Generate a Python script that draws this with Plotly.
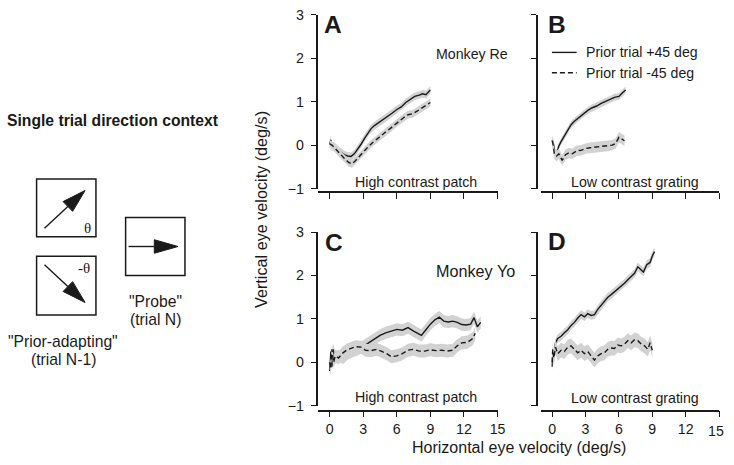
import math
import plotly.graph_objects as go

W, H = 734, 465
FONT = "Liberation Sans, Arial, sans-serif"
BAND = "#d2d2d2"
INK = "#1a1a1a"

# --- data (deg/s) ---
# Panel A, monkey Re, high contrast patch
a_plus_x = [0, 0.1, 0.2, 0.4, 0.7, 1.0, 1.3, 1.6, 1.9, 2.2, 2.5, 2.8, 3.1, 3.4, 3.7, 4.0,
            4.4, 4.8, 5.2, 5.6, 6.0, 6.4, 6.8, 7.2, 7.6, 8.0, 8.3, 8.6, 8.8, 9.0]
a_plus_y = [0.02, 0.12, -0.05, -0.02, -0.1, -0.17, -0.22, -0.25, -0.26, -0.2, -0.1, 0.02,
            0.15, 0.28, 0.38, 0.45, 0.52, 0.58, 0.65, 0.74, 0.82, 0.88, 0.98, 1.06, 1.12,
            1.15, 1.18, 1.16, 1.22, 1.27]
a_minus_x = [0, 0.2, 0.5, 0.8, 1.1, 1.4, 1.7, 2.0, 2.3, 2.6, 3.0, 3.4, 3.8, 4.2, 4.6, 5.0,
             5.4, 5.8, 6.2, 6.6, 7.0, 7.4, 7.8, 8.2, 8.6, 9.0]
a_minus_y = [0.03, 0.0, -0.08, -0.17, -0.25, -0.33, -0.4, -0.43, -0.36, -0.27, -0.16, -0.05,
             0.05, 0.14, 0.22, 0.3, 0.38, 0.47, 0.56, 0.63, 0.70, 0.72, 0.78, 0.85, 0.92, 0.98]

# Panel B, monkey Re, low contrast grating
b_plus_x = [0, 0.1, 0.2, 0.3, 0.45, 0.6, 0.8, 1.1, 1.4, 1.7, 2.0, 2.4, 2.8, 3.2, 3.6, 4.0,
            4.4, 4.8, 5.2, 5.6, 6.0, 6.3, 6.6]
b_plus_y = [0.12, 0.05, -0.1, -0.2, -0.15, -0.02, 0.08, 0.22, 0.35, 0.47, 0.55, 0.64, 0.72,
            0.8, 0.86, 0.9, 0.96, 1.0, 1.05, 1.1, 1.12, 1.2, 1.27]
b_minus_x = [0, 0.1, 0.2, 0.4, 0.6, 0.9, 1.2, 1.5, 1.8, 2.2, 2.6, 3.0, 3.4, 3.8, 4.2, 4.6,
             5.0, 5.4, 5.7, 6.0, 6.2, 6.5]
b_minus_y = [0.1, 0.0, -0.2, -0.25, -0.2, -0.35, -0.22, -0.18, -0.2, -0.13, -0.12, -0.08,
             -0.06, -0.05, -0.04, -0.03, -0.02, 0.0, 0.04, 0.18, 0.15, 0.1]

# Panel C, monkey Yo, high contrast patch
c_plus_x = [0, 0.1, 0.2, 0.3, 0.5, 0.8, 1.2, 1.6, 2.0, 2.5, 3.0, 3.5, 4.0, 4.5, 5.0, 5.5,
            6.0, 6.5, 7.0, 7.5, 8.0, 8.2, 8.6, 9.0, 9.4, 9.8, 10.2, 10.6, 11.0, 11.4, 11.8,
            12.2, 12.6, 12.9, 13.2, 13.5]
c_plus_y = [-0.2, 0.25, -0.1, 0.3, 0.1, 0.15, 0.1, 0.2, 0.25, 0.3, 0.37, 0.45, 0.55, 0.62,
            0.68, 0.72, 0.76, 0.74, 0.8, 0.72, 0.65, 0.62, 0.75, 0.88, 0.98, 1.04, 0.95,
            0.93, 0.95, 0.92, 0.87, 0.86, 0.88, 1.03, 0.82, 0.92]
c_minus_x = [0, 0.1, 0.2, 0.35, 0.5, 0.8, 1.1, 1.5, 1.9, 2.3, 2.8, 3.2, 3.7, 4.2, 4.6, 5.1,
             5.5, 6.0, 6.5, 7.0, 7.5, 8.0, 8.5, 9.0, 9.5, 10.0, 10.5, 11.0, 11.4, 11.8,
             12.3, 12.8, 13.0]
c_minus_y = [0.0, -0.15, 0.3, 0.0, 0.15, 0.1, 0.2, 0.28, 0.32, 0.36, 0.35, 0.28, 0.27, 0.3,
             0.26, 0.2, 0.13, 0.15, 0.2, 0.28, 0.3, 0.26, 0.26, 0.29, 0.27, 0.28, 0.26,
             0.28, 0.38, 0.45, 0.46, 0.55, 0.67]

# Panel D, monkey Yo, low contrast grating
d_plus_x = [0, 0.05, 0.1, 0.2, 0.3, 0.5, 0.8, 1.1, 1.4, 1.7, 2.0, 2.3, 2.6, 2.9, 3.2, 3.5,
            3.8, 4.1, 4.4, 4.7, 5.0, 5.3, 5.6, 5.9, 6.2, 6.5, 6.8, 7.1, 7.4, 7.7, 8.0, 8.2,
            8.5, 8.8, 9.0, 9.2]
d_plus_y = [-0.1, 0.15, 0.05, 0.3, 0.45, 0.55, 0.6, 0.68, 0.75, 0.85, 0.92, 1.02, 1.1, 1.05,
            1.12, 1.08, 1.1, 1.22, 1.32, 1.4, 1.5, 1.56, 1.62, 1.68, 1.76, 1.82, 1.9, 1.98,
            2.05, 2.2, 2.12, 2.08, 2.25, 2.3, 2.45, 2.55]
d_minus_x = [0, 0.05, 0.15, 0.3, 0.5, 0.8, 1.1, 1.4, 1.7, 2.0, 2.3, 2.6, 2.9, 3.2, 3.5, 3.8,
             4.1, 4.4, 4.7, 5.0, 5.3, 5.6, 5.9, 6.2, 6.5, 6.8, 7.1, 7.4, 7.7, 8.0, 8.3, 8.6,
             8.8, 9.0]
d_minus_y = [0.0, 0.3, 0.1, 0.35, 0.2, 0.28, 0.25, 0.35, 0.38, 0.3, 0.22, 0.28, 0.2, 0.25,
             0.15, 0.05, 0.15, 0.2, 0.22, 0.3, 0.33, 0.32, 0.4, 0.38, 0.42, 0.5, 0.45, 0.52,
             0.5, 0.42, 0.38, 0.3, 0.45, 0.28]

# SEM half-widths of the grey bands
a_plus_sem, a_minus_sem = 0.09, 0.09
b_plus_sem, b_minus_sem = 0.08, 0.12
c_plus_sem, c_minus_sem = 0.14, 0.15
d_plus_sem, d_minus_sem = 0.1, 0.17

x_ticks = [0, 3, 6, 9, 12, 15]
y_ticks = [-1, 0, 1, 2, 3]


def px(x):
    return x / W


def py(y):
    return 1 - y / H


fig = go.Figure()


def add_series(x, y, sem, n, dash):
    xa, ya = ("x", "y") if n == 1 else (f"x{n}", f"y{n}")
    upper = [v + sem for v in y]
    lower = [v - sem for v in y]
    fig.add_trace(go.Scatter(x=x + x[::-1], y=upper + lower[::-1], fill="toself",
                             fillcolor=BAND, line=dict(width=0), mode="lines",
                             xaxis=xa, yaxis=ya, hoverinfo="skip", showlegend=False))
    fig.add_trace(go.Scatter(x=x, y=y, mode="lines",
                             line=dict(color=INK, width=1.4, dash=dash),
                             xaxis=xa, yaxis=ya, showlegend=False))


DASH = "5px,3px"
add_series(a_plus_x, a_plus_y, a_plus_sem, 1, "solid")
add_series(a_minus_x, a_minus_y, a_minus_sem, 1, DASH)
add_series(b_plus_x, b_plus_y, b_plus_sem, 2, "solid")
add_series(b_minus_x, b_minus_y, b_minus_sem, 2, DASH)
add_series(c_plus_x, c_plus_y, c_plus_sem, 3, "solid")
add_series(c_minus_x, c_minus_y, c_minus_sem, 3, DASH)
add_series(d_plus_x, d_plus_y, d_plus_sem, 4, "solid")
add_series(d_minus_x, d_minus_y, d_minus_sem, 4, DASH)

# panel geometry in pixels: x-axis span, x-axis line y, y-axis span, y-axis line x
panels = [
    (1, 322, 503, 191, 7, 187, 320, False, True),
    (2, 547, 727, 191, 7, 187, 543, False, False),
    (3, 322, 503, 417, 232, 412, 320, True, True),
    (4, 547, 727, 417, 232, 412, 543, True, False),
]
axes = {}
for n, x0, x1, xl, y0, y1, yl, sx, sy in panels:
    key = "" if n == 1 else str(n)
    # the last label of the right-hand panel sits at the page edge; it is added below
    labels = [str(v) for v in x_ticks]
    if n == 4:
        labels[-1] = ""
    axes["xaxis" + key] = dict(
        domain=[px(x0), px(x1)], anchor="free", position=py(xl), range=[-1, 15],
        tickvals=x_ticks, ticktext=labels, showticklabels=sx, ticks="outside", ticklen=6,
        tickwidth=1.3, tickcolor=INK, showline=True, linewidth=1.5, linecolor=INK,
        showgrid=False, zeroline=False, tickfont=dict(size=14.2, color=INK))
    axes["yaxis" + key] = dict(
        domain=[py(y1), py(y0)], anchor="free", position=px(yl), range=[-1, 3],
        tickvals=y_ticks, showticklabels=sy, ticks="outside", ticklen=5, tickwidth=1.3,
        tickcolor=INK, showline=True, linewidth=1.5, linecolor=INK, showgrid=False,
        zeroline=False, tickfont=dict(size=14.2, color=INK), ticklabelstandoff=4)


def text(s, x, y, size=13, anchor="center", bold=False, family=FONT, angle=0):
    if bold:
        s = f"<b>{s}</b>"
    return dict(text=s, x=px(x), y=py(y), xref="paper", yref="paper", showarrow=False,
                xanchor=anchor, yanchor="middle", textangle=angle,
                font=dict(size=size, family=family, color=INK))


annotations = [
    text("A", 326, 17, 24.5, "left", True),
    text("B", 552, 17, 24.5, "left", True),
    text("C", 327, 243, 24.5, "left", True),
    text("D", 552, 242, 24.5, "left", True),
    text("Monkey Re", 477, 48, 14.2),
    text("Monkey Yo", 481, 272, 16.2),
    text("High contrast patch", 421, 180, 14.2),
    text("Low contrast grating", 642, 180, 14.2),
    text("High contrast patch", 421, 403, 14.2),
    text("Low contrast grating", 642, 404, 14.2),
    text("Prior trial +45 deg", 590, 46, 14.1, "left"),
    text("Prior trial -45 deg", 590, 67, 14.1, "left"),
    text("Vertical eye velocity (deg/s)", 264, 209, 16.2, angle=-90),
    text("Horizontal eye velocity (deg/s)", 525, 455, 16),
    text(str(x_ticks[-1]), 734, 438, 14.2, "right"),
    text("Single trial direction context", 114, 117, 15.7, bold=True),
    text("θ", 88, 228, 15, family="Liberation Serif, serif"),
    text("-θ", 85, 269, 15, family="Liberation Serif, serif"),
    text('"Probe"', 157, 304, 15.7),
    text("(trial N)", 157, 323, 15.7),
    text('"Prior-adapting"', 64, 345, 15.7),
    text("(trial N-1)", 64, 364, 15.7),
]

shapes = [
    dict(type="line", xref="paper", yref="paper", x0=px(558), x1=px(583), y0=py(46),
         y1=py(46), line=dict(color=INK, width=1.4)),
    dict(type="line", xref="paper", yref="paper", x0=px(558), x1=px(583), y0=py(67),
         y1=py(67), line=dict(color=INK, width=1.4, dash=DASH)),
]
for bx0, by0, bx1, by1 in [(37, 177, 97, 237), (37, 257, 97, 318), (127, 217, 187, 277)]:
    shapes.append(dict(type="rect", xref="paper", yref="paper", x0=px(bx0), x1=px(bx1),
                       y0=py(by1), y1=py(by0), line=dict(color=INK, width=1.5)))


def arrow(tx, ty, hx, hy, length=24, half=7):
    ang = math.atan2(hy - ty, hx - tx)
    bx, by = hx - length * math.cos(ang), hy - length * math.sin(ang)
    nx, ny = -math.sin(ang) * half, math.cos(ang) * half
    shapes.append(dict(type="line", xref="paper", yref="paper", x0=px(tx), y0=py(ty),
                       x1=px(bx), y1=py(by), line=dict(color=INK, width=1.4)))
    path = (f"M{px(hx)},{py(hy)} L{px(bx + nx)},{py(by + ny)} "
            f"L{px(bx - nx)},{py(by - ny)} Z")
    shapes.append(dict(type="path", xref="paper", yref="paper", path=path,
                       fillcolor=INK, line=dict(color=INK, width=1)))


arrow(45, 228, 86, 189)
arrow(45, 266, 86, 305)
arrow(130, 247, 180, 247)

fig.update_layout(
    autosize=True, margin=dict(l=0, r=0, t=0, b=0, pad=0),
    paper_bgcolor="white", plot_bgcolor="white",
    font=dict(family=FONT, size=13, color=INK),
    annotations=annotations, shapes=shapes, showlegend=False,
    **axes,
)

# let the figure fill the window exactly: no page margins, full-height containers
FIT_PAGE = (
    "var gd = document.getElementById('{plot_id}');"
    "var root = document.documentElement;"
    "root.style.margin = '0'; root.style.height = '100%'; root.style.overflow = 'hidden';"
    "document.body.style.margin = '0'; document.body.style.height = '100%';"
    "document.body.style.overflow = 'hidden';"
    "gd.parentElement.style.height = '100%';"
    "gd.style.width = '100vw'; gd.style.height = '100vh';"
    "Plotly.Plots.resize(gd);"
)
fig.write_html("out.html", default_width="100%", default_height="100%",
               config={"displayModeBar": False}, post_script=FIT_PAGE)
